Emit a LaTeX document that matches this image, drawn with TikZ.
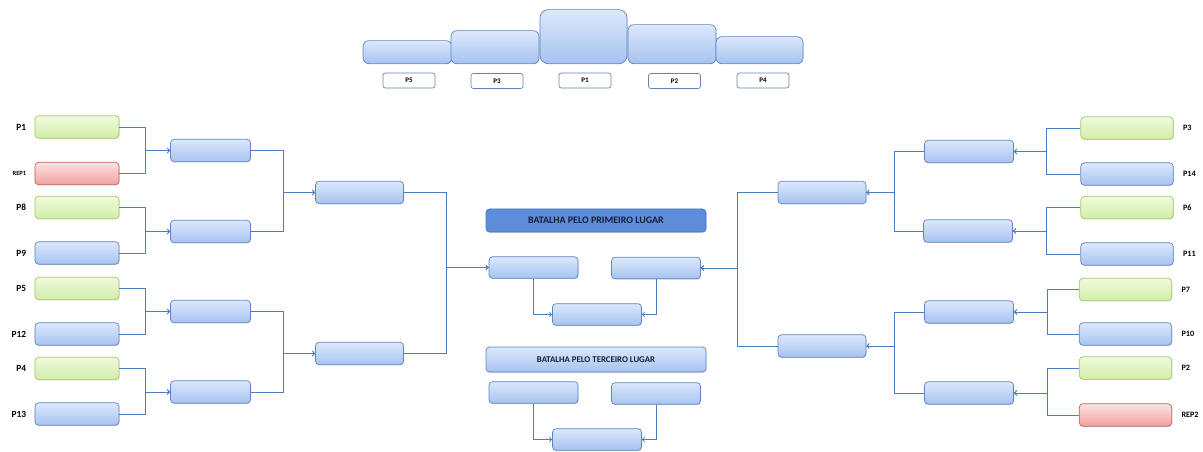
\documentclass[tikz,border=0pt]{standalone}
\usepackage{fontspec}
\setmainfont{Carlito}
\usetikzlibrary{positioning, shadows}

\definecolor{linkblue}{RGB}{79,124,186}
\definecolor{boxedge}{RGB}{96,132,192}
\definecolor{titleblue}{RGB}{91,141,217}
\definecolor{titletext}{RGB}{18,30,60}

\begin{document}
\begin{tikzpicture}[x=0.03cm,y=-0.03cm,->,>=to,line width=0.8pt,draw=linkblue,
    base box/.style={rounded corners=3pt,draw=boxedge,line width=0.6pt,inner sep=0pt,
      minimum height=0.67cm,drop shadow={opacity=0.25,shadow xshift=0.5pt,shadow yshift=-0.7pt}},
    blue box/.style={base box,top color={rgb,255:red,220;green,232;blue,252},bottom color={rgb,255:red,166;green,195;blue,240}},
    green box/.style={base box,draw={rgb,255:red,165;green,198;blue,106},top color={rgb,255:red,240;green,250;blue,222},bottom color={rgb,255:red,210;green,238;blue,166}},
    red box/.style={base box,draw={rgb,255:red,192;green,96;blue,96},top color={rgb,255:red,253;green,226;blue,226},bottom color={rgb,255:red,242;green,160;blue,160}},
    seed box/.style={minimum width=2.52cm},
    wide seed/.style={minimum width=2.77cm},
    round box/.style={blue box,minimum width=2.4cm},
    semi box/.style={blue box,minimum width=2.64cm},
    final box/.style={blue box,minimum width=2.67cm,minimum height=0.65cm},
    podium/.style={blue box,rounded corners=5pt,anchor=south},
    tag/.style={inner sep=0pt,font=\bfseries\fontsize{8}{9}\selectfont,text=black},
    right tag/.style={tag,font=\bfseries\fontsize{7}{8}\selectfont},
    small tag/.style={tag,font=\bfseries\fontsize{5.5}{6}\selectfont},
    place tag/.style={draw=boxedge!80!gray,line width=0.6pt,fill=white,rounded corners=2pt,
      minimum width=1.56cm,minimum height=0.45cm,inner sep=0pt,font=\bfseries\fontsize{6}{7}\selectfont}]

\useasboundingbox (0,0) rectangle (1203,452);

% podium
\node[podium,minimum width=2.67cm,minimum height=0.69cm] (pod5) at (407.5,64) {};
\node[podium,minimum width=2.64cm,minimum height=0.99cm] (pod3) at (495,64) {};
\node[podium,minimum width=2.61cm,minimum height=1.62cm,rounded corners=7pt] (pod1) at (583.5,64) {};
\node[podium,minimum width=2.64cm,minimum height=1.17cm] (pod2) at (672,64) {};
\node[podium,minimum width=2.61cm,minimum height=0.81cm] (pod4) at (759.5,64) {};
\node[place tag] (podP5) at (409,80.5) {P5};
\node[place tag] (podP3) at (497,81) {P3};
\node[place tag] (podP1) at (585,80.5) {P1};
\node[place tag] (podP2) at (674.5,81) {P2};
\node[place tag] (podP4) at (763,80.5) {P4};

% left seeds
\node[green box,seed box] (P1)   at (77,127)   {};
\node[red box,seed box]   (REP1) at (77,173.5) {};
\node[green box,seed box] (P8)   at (77,207.5) {};
\node[blue box,seed box]  (P9)   at (77,253)   {};
\node[green box,seed box] (P5)   at (77,288.5) {};
\node[blue box,seed box]  (P12)  at (77,334)   {};
\node[green box,seed box] (P4)   at (77,368.5) {};
\node[blue box,seed box]  (P13)  at (77,414)   {};

\node[tag]       [left=0.24cm of P1]   {P1};
\node[small tag] [left=0.24cm of REP1] {REP1};
\node[tag]       [left=0.24cm of P8]   {P8};
\node[tag]       [left=0.24cm of P9]   {P9};
\node[tag]       [left=0.24cm of P5]   {P5};
\node[tag]       [left=0.24cm of P12]  {P12};
\node[tag]       [left=0.24cm of P4]   {P4};
\node[tag]       [left=0.24cm of P13]  {P13};

% right seeds
\node[green box,wide seed] (P3)   at (1127,128)   {};
\node[blue box,wide seed]  (P14)  at (1127,174)   {};
\node[green box,wide seed] (P6)   at (1127,207.5) {};
\node[blue box,wide seed]  (P11)  at (1127,254)   {};
\node[green box,wide seed] (P7)   at (1125.5,289.5) {};
\node[blue box,wide seed]  (P10)  at (1125.5,334)   {};
\node[green box,wide seed] (P2)   at (1125.5,368)   {};
\node[red box,wide seed]   (REP2) at (1125.5,415)   {};

\node[right tag] [right=0.27cm of P3]   {P3};
\node[right tag] [right=0.27cm of P14]  {P14};
\node[right tag] [right=0.27cm of P6]   {P6};
\node[right tag] [right=0.27cm of P11]  {P11};
\node[right tag] [right=0.27cm of P7]   {P7};
\node[right tag] [right=0.27cm of P10]  {P10};
\node[right tag] [right=0.27cm of P2]   {P2};
\node[right tag] [right=0.27cm of REP2] {REP2};

% rounds
\node[round box] (QFL1) at (210.5,150.5) {};
\node[round box] (QFL2) at (210.5,231.5) {};
\node[round box] (QFL3) at (210.5,311.5) {};
\node[round box] (QFL4) at (210.5,392)   {};
\node[semi box]  (SFL1) at (359.5,192.5) {};
\node[semi box]  (SFL2) at (359.5,353.5) {};

\node[round box,minimum width=2.67cm] (QFR1) at (969,151.5) {};
\node[round box,minimum width=2.67cm] (QFR2) at (968,231)   {};
\node[round box,minimum width=2.67cm] (QFR3) at (969,312)   {};
\node[round box,minimum width=2.67cm] (QFR4) at (969,393)   {};
\node[semi box]  (SFR1) at (822,192.5) {};
\node[semi box]  (SFR2) at (822,346)   {};

% centre
\node[base box,fill=titleblue,draw={rgb,255:red,74;green,120;blue,192},minimum width=6.6cm,minimum height=0.69cm,
      font=\bfseries\fontsize{8.5}{9}\selectfont,text=titletext] (TITLE1) at (596,220.5) {BATALHA PELO PRIMEIRO LUGAR};
\node[final box] (FL)    at (533.5,267.5) {};
\node[final box] (FR)    at (656,268)     {};
\node[final box] (CHAMP) at (597,314.5)   {};

\node[blue box,minimum width=6.6cm,minimum height=0.75cm,
      font=\bfseries\fontsize{7.5}{8}\selectfont,text=titletext] (TITLE3) at (596,359.5) {BATALHA PELO TERCEIRO LUGAR};
\node[final box] (TL)    at (533.5,392.5) {};
\node[final box] (TR)    at (656,393.5)   {};
\node[final box] (THIRD) at (597,439.5)   {};

% left links
\draw (P1.east) -- ++(26,0) |- (QFL1.west);
\draw (REP1.east) -- ++(26,0) |- (QFL1.west);
\draw (P8.east) -- ++(26,0) |- (QFL2.west);
\draw (P9.east) -- ++(26,0) |- (QFL2.west);
\draw (P5.east) -- ++(26,0) |- (QFL3.west);
\draw (P12.east) -- ++(26,0) |- (QFL3.west);
\draw (P4.east) -- ++(26,0) |- (QFL4.west);
\draw (P13.east) -- ++(26,0) |- (QFL4.west);

\draw (QFL1.east) -- ++(33,0) |- (SFL1.west);
\draw (QFL2.east) -- ++(33,0) |- (SFL1.west);
\draw (QFL3.east) -- ++(33,0) |- (SFL2.west);
\draw (QFL4.east) -- ++(33,0) |- (SFL2.west);

\draw (SFL1.east) -- ++(43,0) |- (FL.west);
\draw (SFL2.east) -- ++(43,0) |- (FL.west);

% right links
\draw (P3.west) -- ++(-34,0) |- (QFR1.east);
\draw (P14.west) -- ++(-34,0) |- (QFR1.east);
\draw (P6.west) -- ++(-34,0) |- (QFR2.east);
\draw (P11.west) -- ++(-34,0) |- (QFR2.east);
\draw (P7.west) -- ++(-32,0) |- (QFR3.east);
\draw (P10.west) -- ++(-32,0) |- (QFR3.east);
\draw (P2.west) -- ++(-32,0) |- (QFR4.east);
\draw (REP2.west) -- ++(-32,0) |- (QFR4.east);

\draw (QFR1.west) -- ++(-30,0) |- (SFR1.east);
\draw (QFR2.west) -- ++(-29,0) |- (SFR1.east);
\draw (QFR3.west) -- ++(-30,0) |- (SFR2.east);
\draw (QFR4.west) -- ++(-30,0) |- (SFR2.east);

\draw (SFR1.west) -- ++(-40,0) |- (FR.east);
\draw (SFR2.west) -- ++(-40,0) |- (FR.east);

% finals
\draw (FL.south) |- (CHAMP.west);
\draw (FR.south) |- (CHAMP.east);
\draw (TL.south) |- (THIRD.west);
\draw (TR.south) |- (THIRD.east);

\end{tikzpicture}
\end{document}
